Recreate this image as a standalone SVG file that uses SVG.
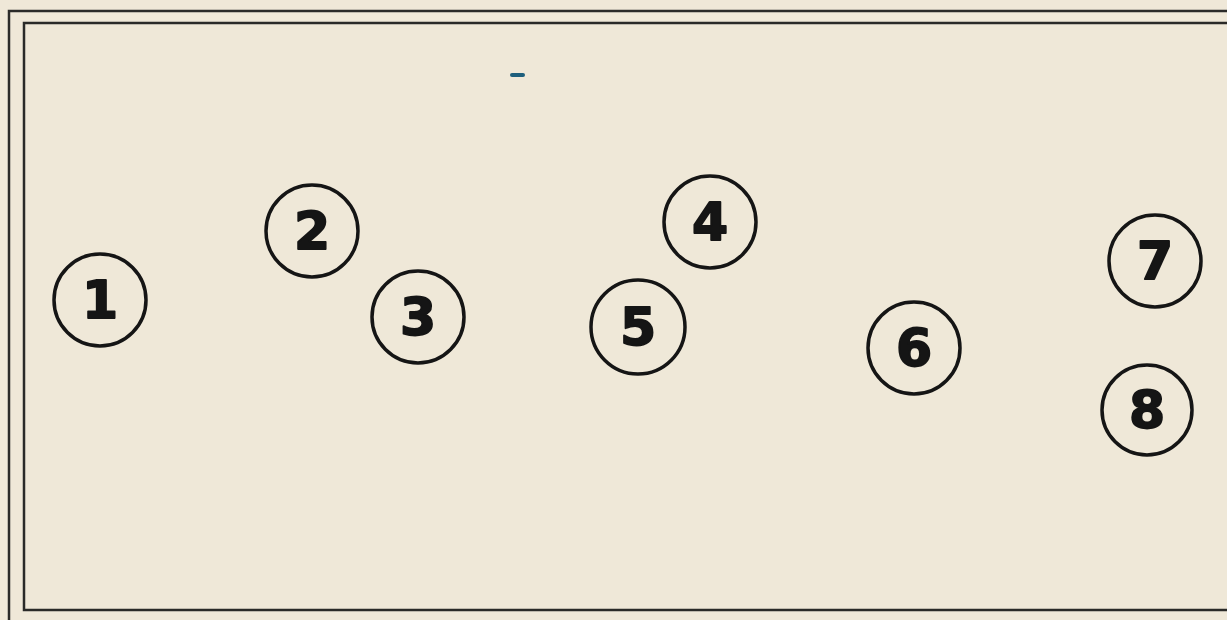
<svg xmlns="http://www.w3.org/2000/svg" width="1227" height="620" viewBox="0 0 1227 620">
<style>
.frame{fill:none;stroke:#2a2a28;stroke-width:2.5}
.node circle{fill:none;stroke:#151515;stroke-width:3.5}
.node text{font-family:"DejaVu Sans",sans-serif;font-weight:bold;font-size:52px;fill:#151515;stroke:#151515;stroke-width:1.8;stroke-linejoin:round;text-anchor:middle;dominant-baseline:central}
</style>
<rect x="0" y="0" width="1227" height="620" fill="#efe8d8"/>
<g id="frame">
<path class="frame" d="M9,625 V11 H1232"/>
<path class="frame" d="M1232,23 H24 V610 H1232"/>
</g>
<rect x="510" y="73" width="15" height="4" rx="2" fill="#1e5f7c"/>
<g id="connectors"></g>
<g id="n1" class="node"><circle cx="100" cy="300" r="46"/><text x="100" y="300">1</text></g>
<g id="n2" class="node"><circle cx="312" cy="231" r="46"/><text x="312" y="231">2</text></g>
<g id="n3" class="node"><circle cx="418" cy="317" r="46"/><text x="418" y="317">3</text></g>
<g id="n4" class="node"><circle cx="710" cy="222" r="46"/><text x="710" y="222">4</text></g>
<g id="n5" class="node"><circle cx="638" cy="327" r="47"/><text x="638" y="327">5</text></g>
<g id="n6" class="node"><circle cx="914" cy="348" r="46"/><text x="914" y="348">6</text></g>
<g id="n7" class="node"><circle cx="1155" cy="261" r="46"/><text x="1155" y="261">7</text></g>
<g id="n8" class="node"><circle cx="1147" cy="410" r="45"/><text x="1147" y="410">8</text></g>
</svg>
